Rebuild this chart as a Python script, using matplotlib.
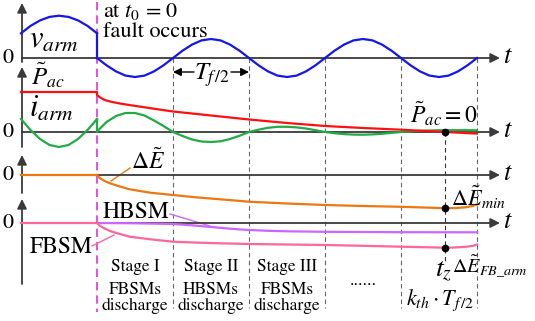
import numpy as np
import matplotlib
matplotlib.use("Agg")
import matplotlib.pyplot as plt

plt.rcParams['font.family'] = ['STIXGeneral', 'Liberation Serif', 'DejaVu Serif']
plt.rcParams['mathtext.fontset'] = 'stix'

# ---------------- data (time in half-periods T_f/2, fault at t=0) ----------------
T_PRE = [-1.0, -0.875, -0.75, -0.625, -0.5, -0.375, -0.25, -0.125, 0.0]
T_POST = list(np.arange(0, 5.001, 0.125))

V_PRE = [24.7, 32.1, 37.6, 41.1, 42.3, 41.1, 37.6, 32.1, 24.7]
V_POST = [0, -7.3, -13.4, -17.6, -19, -17.6, -13.4, -7.3,
          0, 7.3, 13.4, 17.6, 19, 17.6, 13.4, 7.3,
          0, -7.3, -13.4, -17.6, -19, -17.6, -13.4, -7.3,
          0, 7.3, 13.4, 17.6, 19, 17.6, 13.4, 7.3,
          0, -7.3, -13.4, -17.6, -19, -17.6, -13.4, -7.3, 0]

I_PRE = [13, 2, -7, -13, -15, -13, -7, 2, 13]
I_POST = [0.5, 10, 16, 19, 19, 16.5, 11.5, 6,
          0, -4, -7.5, -9.5, -10, -9.3, -7, -3.8,
          0, 2.3, 4.2, 5.2, 5.2, 4.6, 3.5, 1.8,
          0, -1.2, -2.1, -2.6, -2.7, -2.4, -1.8, -0.9,
          0, 0.7, 1.2, 1.5, 1.7, 1.8, 1.8, 1.8, 1.7]

T_P = [-1.0, 0.0, 0.0, 0.04, 0.1, 0.2, 0.3, 0.45, 0.6, 0.8, 1.0, 1.25, 1.5, 1.75,
       2.0, 2.5, 3.0, 3.5, 4.0, 4.58, 5.0]
P_AC = [40, 40, 37, 34.5, 32, 30, 28.5, 26.7, 25, 22.7, 20.5, 18.5, 16.5, 14.5,
        12.5, 9, 6, 4, 2.3, 0, -1.6]

T_E = [-1.0, 0.0, 0.04, 0.1, 0.17, 0.3, 0.43, 0.7, 1.0, 1.3, 1.62, 2.0, 2.5, 3.0,
       3.5, 4.0, 4.3, 4.58, 4.7, 4.85, 4.95, 5.0]
DELTA_E = [0, 0, -3.3, -6, -8.3, -11.5, -14.3, -17.7, -20, -22.3, -24.3, -26.7, -28.5,
           -30, -31, -31.8, -32.5, -33.2, -33.1, -32.3, -30.8, -29.5]
FBSM = [0, 0, -3, -5.5, -8, -11, -13.7, -16.3, -18.7, -19.6, -20.3, -21, -21.5, -22,
        -22.8, -23.7, -24.2, -24.7, -24.5, -23.8, -22.8, -21.5]

T_H = [0, 0.5, 1.0, 1.25, 1.5, 1.75, 2.0, 2.25, 2.5, 3.0, 4.0, 5.0]
HBSM = [0, -0.3, -1, -2.3, -4, -5.7, -7, -7.8, -8.3, -8.8, -9.2, -9.3]

STAGE_T = [0.5, 1.5, 2.5]
STAGE_NAMES = ['Stage I', 'Stage II', 'Stage III']
STAGE_DESC = ['FBSMs\ndischarge', 'HBSMs\ndischarge', 'FBSMs\ndischarge']
T_DASH = [1, 2, 3, 4, 5]
T_Z = 4.58

# ---------------- layout ----------------
X0, TS = 97, 76.0          # pixel x of t=0, pixels per half-period
XA = 22                    # vertical axes x
XEND = 500                 # arrow tip x
Y_V, Y_P, Y_E, Y_S = 58, 132, 175, 223   # zero lines of the panels

def X(t):
    return X0 + TS * np.asarray(t, dtype=float)

def Y(v, y0):
    return y0 - np.asarray(v, dtype=float)

fig = plt.figure(figsize=(5.35, 3.21), dpi=100)
ax = fig.add_axes([0, 0, 1, 1])
ax.set_xlim(0, 535)
ax.set_ylim(321, 0)
ax.axis('off')

AX_C = '#3a3a3a'
def arrow(x1, y1, x2, y2, color=AX_C, lw=1.3, ms=14):
    ax.annotate('', xy=(x2, y2), xytext=(x1, y1),
                arrowprops=dict(arrowstyle='-|>', color=color, lw=lw,
                                mutation_scale=ms, shrinkA=0, shrinkB=0))

# dashed stage lines
for td in T_DASH:
    ax.plot([X(td), X(td)], [Y_V, 308], color='#666666', lw=0.8, ls=(0, (4, 3)), zorder=1)
ax.plot([X(T_Z), X(T_Z)], [Y_P, 264], color='#333333', lw=0.8, ls=(0, (4, 3)), zorder=1)
ax.plot([X0, X0], [2, 312], color='#e030e0', lw=1.2, ls=(0, (5, 3)), zorder=1)

# axes
for y0, ytop, ybot in [(Y_V, 3, 62), (Y_P, 67, 147), (Y_E, 155, 193), (Y_S, 199, 284)]:
    arrow(XA, y0, XEND, y0)
    arrow(XA, ybot, XA, ytop)
    ax.text(503, y0 - 1, r'$t$', fontsize=19, ha='left', va='center')
    ax.text(8, y0, '0', fontsize=16, ha='center', va='center')

# curves
LW = 1.6
ax.plot(X(T_PRE), Y(V_PRE, Y_V), color='#1515ee', lw=LW, zorder=3)
ax.plot([X0, X0], [Y(V_PRE[-1], Y_V), Y_V], color='#1515ee', lw=LW, zorder=3)
ax.plot(X(T_POST), Y(V_POST, Y_V), color='#1515ee', lw=LW, zorder=3)

ax.plot(X(T_PRE), Y(I_PRE, Y_P), color='#22aa44', lw=LW, zorder=3)
ax.plot([X0, X0], [Y(I_PRE[-1], Y_P), Y(I_POST[0], Y_P)], color='#22aa44', lw=LW, zorder=3)
ax.plot(X(T_POST), Y(I_POST, Y_P), color='#22aa44', lw=LW, zorder=3)
ax.plot(X(T_P), Y(P_AC, Y_P), color='#ff1010', lw=LW, zorder=4)

ax.plot(X(T_E), Y(DELTA_E, Y_E), color='#ee7711', lw=LW, zorder=3)
ax.plot(X(T_H), Y(HBSM, Y_S), color='#cc66ff', lw=LW, zorder=3)
ax.plot(X(T_E), Y(FBSM, Y_S), color='#ff6699', lw=LW, zorder=4)

# dots
iz = T_E.index(T_Z)
ax.plot([X(T_Z)] * 3, [Y_P, Y(DELTA_E[iz], Y_E), Y(FBSM[iz], Y_S)], 'o',
        color='black', ms=4.5, zorder=5)

# leader lines
ax.plot([111, 130], [181, 168], color='#ee7711', lw=1.0)
ax.plot([170, 210], [214, 226], color='#cc66ff', lw=1.0)
ax.plot([92, 114], [246, 235], color='#ff6699', lw=1.0)

# T_f/2 arrows
arrow(194, 72, X(1), 72, color='black', lw=1.0, ms=12)
arrow(231, 72, X(2), 72, color='black', lw=1.0, ms=12)
ax.text(212, 75, r'$T_{f\,/2}$', fontsize=18, ha='center', va='center')

# labels
ax.text(103, 11, r'at $t_0$ = 0', fontsize=16, ha='left', va='center')
ax.text(103, 32, 'fault occurs', fontsize=16, ha='left', va='center')
ax.text(29, 41, r'$v_{arm}$', fontsize=22, ha='left', va='center')
ax.text(31, 76, r'$\tilde{P}_{ac}$', fontsize=18, ha='left', va='center')
ax.text(29, 109, r'$i_{arm}$', fontsize=22, ha='left', va='center')
ax.text(148, 161, r'$\Delta\tilde{E}$', fontsize=17, ha='center', va='center')
ax.text(136, 212, 'HBSM', fontsize=17, ha='center', va='center')
ax.text(61, 247, 'FBSM', fontsize=17, ha='center', va='center')
ax.text(444, 114, r'$\tilde{P}_{ac}=0$', fontsize=17, ha='center', va='center')
ax.text(478, 197, r'$\Delta\tilde{E}_{min}$', fontsize=16, ha='center', va='center')
ax.text(435, 270, r'$t_z$', fontsize=20, ha='left', va='center')
ax.text(452, 267, r'$\Delta\tilde{E}_{FB\_arm}$', fontsize=14.5, ha='left', va='center')
ax.text(440, 300, r'$k_{th}\cdot T_{f\,/2}$', fontsize=16, ha='center', va='center')

for ts, nm, ds in zip(STAGE_T, STAGE_NAMES, STAGE_DESC):
    ax.text(X(ts), 267, nm, fontsize=12.5, ha='center', va='center')
    ax.text(X(ts), 298, ds, fontsize=12.5, ha='center', va='center', linespacing=1.05)
ax.text(X(3.5), 281, '......', fontsize=13, ha='center', va='center')

fig.savefig('out.png', dpi=100)
